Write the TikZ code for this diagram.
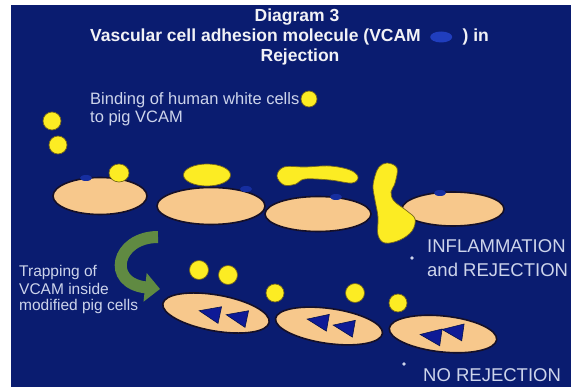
\documentclass[tikz,border=0pt]{standalone}
\usepackage{fontspec}
\setmainfont{Liberation Sans}
\usetikzlibrary{arrows.meta,positioning,shapes.geometric}

\definecolor{slide}{RGB}{10,28,112}
\definecolor{peach}{RGB}{247,200,140}
\definecolor{celledge}{RGB}{22,16,40}
\definecolor{wbc}{RGB}{252,236,35}
\definecolor{wbcedge}{RGB}{120,105,25}
\definecolor{leaf}{RGB}{96,138,66}
\definecolor{vcamblue}{RGB}{14,26,150}
\definecolor{vcamspot}{RGB}{32,62,190}
\definecolor{vcamdim}{RGB}{22,46,160}
\definecolor{labeltext}{RGB}{205,212,235}
\definecolor{titletext}{RGB}{242,242,246}

\tikzset{
  title/.style={text=titletext, font=\bfseries\fontsize{17.5}{20}\selectfont,
    inner sep=0pt, text height=12.5pt, text depth=3.5pt},
  label/.style={text=labeltext, font=\fontsize{15.5}{17}\selectfont,
    align=left, inner sep=0pt},
  outcome/.style={text=labeltext, font=\fontsize{18.5}{21}\selectfont,
    inner sep=0pt, anchor=west},
  cell/.style={fill=peach, draw=celledge, line width=1.6pt},
  whitecell/.style={fill=wbc, draw=wbcedge, line width=0.7pt},
  vcamtri/.style={fill=vcamblue, draw=slide!70!black, line width=0.6pt},
  turnarrow/.style={draw=leaf, line width=12pt, -{Triangle[length=15pt,width=28pt]}}
}

% left-pointing VCAM marker: (x,y) centre, then rotation
\def\vcam(#1,#2)#3{\draw[vcamtri, shift={(#1,#2)}, rotate=#3] (-11,0) -- (10,-8.5) -- (10,8.5) -- cycle;}

\begin{document}
\begin{tikzpicture}[x=1pt, y=-1pt]
  \useasboundingbox (0,0) rectangle (578,387);
  \fill[white] (0,0) rectangle (578,387);
  \fill[slide] (11,5) rectangle (571,387);

  %%%%% HEADING %%%%%
  \node[title] (diagno) at (297,17) {Diagram 3};
  \node[title, anchor=east] (molname) at (421,37) {Vascular cell adhesion molecule (VCAM};
  \node[ellipse, fill=vcamspot, minimum width=22pt, minimum height=11pt, inner sep=0pt,
    right=9pt of molname] (vcamkey) {};
  \node[title, right=10pt of vcamkey] (inword) {) in};
  \node[title] (rejword) at (300,57) {Rejection};

  %%%%% BINDING %%%%%
  \node[label, font=\fontsize{16.5}{18}\selectfont, anchor=west] (bindtext) at (90,100) {Binding of human white cells};
  \node[label, font=\fontsize{16.5}{18}\selectfont, anchor=west] (bindtext2) at (90,118) {to pig VCAM};
  \draw[whitecell] (309,99) circle (8);
  \draw[whitecell] (52,121) circle (9);
  \draw[whitecell] (58,145) circle (9);

  % normal pig cells, VCAM on the surface
  \draw[cell] (100,196) ellipse [x radius=47, y radius=18.5];
  \draw[cell] (211,206) ellipse [x radius=54, y radius=18.5];
  \draw[cell] (318,214) ellipse [x radius=53, y radius=17.5];
  \draw[cell] (453,209) ellipse [x radius=51, y radius=17];
  \fill[vcamdim] (86,178) ellipse [x radius=6, y radius=3];
  \fill[vcamdim] (246,189) ellipse [x radius=6, y radius=3];
  \fill[vcamdim] (336,197) ellipse [x radius=6, y radius=3];
  \fill[vcamdim] (440,193) ellipse [x radius=6, y radius=3];

  % human cells sticking and spreading
  \draw[whitecell] (119,173) ellipse [x radius=10, y radius=9];
  \draw[whitecell] (207,175) ellipse [x radius=23.5, y radius=11];
  \draw[whitecell] plot[smooth cycle, tension=0.6] coordinates {(277,176) (284,167) (305,167)
    (330,166) (350,170) (358,177) (352,183) (330,180) (305,179) (296,184) (284,185)};
  \draw[whitecell] plot[smooth cycle, tension=0.6] coordinates {(387,163) (397,168) (395,183)
    (391,192) (394,201) (407,211) (415,219) (412,231) (400,240) (385,243) (378,235)
    (378,217) (375,200) (373,187) (375,176) (379,167)};

  \fill[labeltext] (412,258) circle (1.8);
  \node[outcome] (inflam) at (427,246) {INFLAMMATION};
  \node[outcome] (inflam2) at (427,270) {and REJECTION};

  %%%%% TRAPPING %%%%%
  \draw[turnarrow] (158,237) .. controls (116,237) and (106,283) .. (160,289);
  \node[label, anchor=west] (traptext) at (19,272) {Trapping of};
  \node[label, anchor=west] (traptext2) at (19,289) {VCAM inside};
  \node[label, anchor=west] (traptext3) at (19,306) {modified pig cells};

  % modified cells, VCAM kept inside
  \draw[cell, rotate around={-10:(216,313)}] (216,313) ellipse [x radius=54, y radius=18];
  \draw[cell, rotate around={-8:(329,326)}] (329,326) ellipse [x radius=54, y radius=17.5];
  \draw[cell, rotate around={-6:(443,334)}] (443,334) ellipse [x radius=54, y radius=18];
  \vcam(210,313){-12}
  \vcam(237,317){-12}
  \vcam(318,321){-10}
  \vcam(344,327){-10}
  \vcam(431,336){-8}
  \vcam(453,331){-8}

  \draw[whitecell] (199,270) circle (9.5);
  \draw[whitecell] (228,275) circle (9.5);
  \draw[whitecell] (275,293) circle (9);
  \draw[whitecell] (355,293) circle (9.5);
  \draw[whitecell] (398,303) circle (9);

  \fill[labeltext] (404,364) circle (1.8);
  \node[outcome] (norej) at (423,375) {NO REJECTION};
\end{tikzpicture}
\end{document}
